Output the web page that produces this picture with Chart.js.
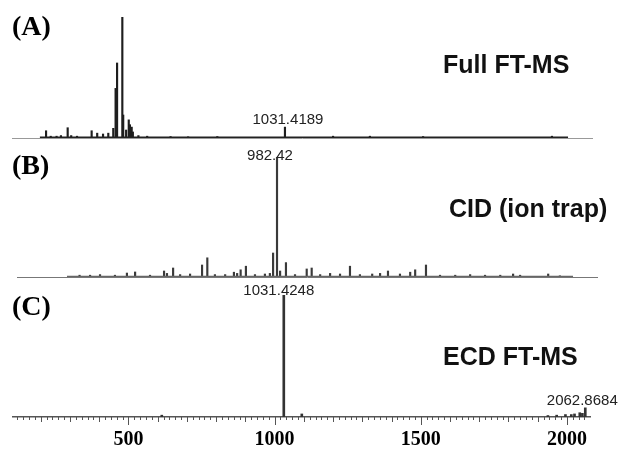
<!DOCTYPE html>
<html><head><meta charset="utf-8">
<script src="https://cdn.jsdelivr.net/npm/chart.js@4/dist/chart.umd.min.js"></script>
<style>
html,body{margin:0;padding:0;background:#fff;}
#wrap{position:relative;width:619px;height:457px;overflow:hidden;background:#fff;}
canvas{position:absolute;left:0;top:0;}
.pl{position:absolute;font-family:"Liberation Serif","Times New Roman",serif;font-weight:bold;font-size:28px;color:#000;line-height:1;white-space:nowrap;}
.mt{position:absolute;font-family:"Liberation Sans",Arial,sans-serif;font-weight:bold;font-size:25px;color:#111;line-height:1;white-space:nowrap;}
</style></head><body>
<div id="wrap">
<canvas id="cA" width="619" height="457"></canvas>
<canvas id="cB" width="619" height="457"></canvas>
<canvas id="cC" width="619" height="470"></canvas>
<div class="pl" style="left:12px;top:12px">(A)</div>
<div class="pl" style="left:12px;top:151px">(B)</div>
<div class="pl" style="left:12px;top:292px">(C)</div>
<div class="mt" style="left:443px;top:52px">Full FT-MS</div>
<div class="mt" style="left:449px;top:196px">CID (ion trap)</div>
<div class="mt" style="left:443px;top:344px">ECD FT-MS</div>
</div>
<script>
// ---- data (m/z, relative intensity %) ----
const peaksA = [
  {x:214,y:6},{x:230,y:1.5},{x:250,y:1.5},{x:265,y:2},{x:288,y:8.5},{x:300,y:2},{x:320,y:1.5},
  {x:370,y:6},{x:389,y:4},{x:409,y:3.3},{x:427,y:4},{x:444,y:8},{x:452,y:41},{x:457,y:62},
  {x:475,y:100},{x:478,y:19},{x:488,y:6.6},{x:497,y:15},{x:501,y:11},{x:507,y:9},{x:511,y:5},
  {x:530,y:2},{x:560,y:1.5},{x:640,y:1.2},{x:700,y:1},{x:800,y:1.2},{x:1031.4189,y:9},
  {x:1196,y:1.5},{x:1322,y:1.5},{x:1504,y:1.2},{x:1945,y:1.5}
];
const noiseA = [{x:193,y:0.5},{x:2000,y:0.5}];
const labelsA = ['1031.4189'];

const peaksB = [
  {x:307,y:1.5},{x:343,y:1.5},{x:377,y:2},{x:428,y:1.5},{x:469,y:3.3},{x:497,y:4.2},{x:548,y:1.5},
  {x:596,y:5},{x:606,y:3},{x:627,y:7.5},{x:651,y:2},{x:685,y:2.5},{x:726,y:10},{x:744,y:16},
  {x:770,y:2},{x:805,y:2},{x:835,y:4},{x:846,y:3},{x:858,y:6},{x:876,y:9},{x:907,y:2},{x:941,y:2.5},
  {x:958,y:3},{x:969,y:20},{x:982.42,y:100},{x:993,y:5},{x:1013,y:12},{x:1044,y:2},{x:1084,y:6.7},
  {x:1101,y:7.5},{x:1130,y:2},{x:1164,y:3},{x:1198,y:2.5},{x:1232,y:9},{x:1266,y:2},{x:1308,y:2.5},
  {x:1335,y:3},{x:1362,y:5},{x:1403,y:2.5},{x:1438,y:4},{x:1455,y:6},{x:1492,y:10},{x:1540,y:1.5},
  {x:1592,y:1.5},{x:1643,y:2},{x:1694,y:1.5},{x:1746,y:1.5},{x:1790,y:2.5},{x:1814,y:1.5},
  {x:1910,y:2.5},{x:1950,y:1}
];
const noiseB = [{x:264,y:0.4},{x:1995,y:0.4}];
const labelsB = ['982.42'];

const peaksC = [
  {x:614,y:1.5},{x:1031.4248,y:100},{x:1093,y:2.5},{x:1935,y:1.2},{x:1965,y:1.5},{x:1995,y:2},
  {x:2015,y:2},{x:2026,y:2.5},{x:2044,y:3.5},{x:2053,y:3},{x:2062.8684,y:7.5}
];
const labelsC = ['1031.4248','2062.8684'];
const tickValues = [500,1000,1500,2000];

// ---- plugins ----
const peakLabelPlugin = {
  id:'peakLabels',
  afterDatasetsDraw(chart, args, opts){
    const items = opts.items || [];
    const ctx = chart.ctx, xs = chart.scales.x, ys = chart.scales.y;
    ctx.save();
    ctx.font = '15px "Liberation Sans", Arial, sans-serif';
    ctx.fillStyle = '#222'; ctx.textAlign = 'center'; ctx.textBaseline = 'alphabetic';
    items.forEach(it => {
      const mz = parseFloat(it.text);
      const data = chart.data.datasets[0].data;
      const pk = data.reduce((a,b)=> Math.abs(b.x-mz) < Math.abs(a.x-mz) ? b : a);
      ctx.fillText(it.text, xs.getPixelForValue(pk.x) + (it.dx||0), ys.getPixelForValue(pk.y) + (it.dy||0));
    });
    ctx.restore();
  }
};
const minorTickPlugin = {
  id:'minorTicks',
  afterDraw(chart){
    const xs = chart.scales.x, ctx = chart.ctx, y0 = chart.chartArea.bottom;
    ctx.save(); ctx.strokeStyle = '#555'; ctx.lineWidth = 1;
    for (let v = Math.ceil(xs.min/20)*20; v <= xs.max; v += 20) {
      const len = v % 500 === 0 ? 8 : (v % 100 === 0 ? 5 : 3);
      const px = Math.round(xs.getPixelForValue(v)) + 0.5;
      ctx.beginPath(); ctx.moveTo(px, y0); ctx.lineTo(px, y0 + len); ctx.stroke();
    }
    ctx.restore();
  }
};

function makeChart(id, peaks, noise, xr, pad, o){
  const datasets = [{type:'bar', data:peaks, backgroundColor:o.peakColor, borderWidth:0, barThickness:o.bw, order:1}];
  if (noise) datasets.push({type:'line', data:noise, borderColor:o.noiseColor, borderWidth:o.noiseW, pointRadius:0, order:0});
  return new Chart(document.getElementById(id), {
    type:'bar',
    data:{datasets},
    options:{
      responsive:false, animation:false, devicePixelRatio:1,
      layout:{padding:pad},
      plugins:{legend:{display:false}, tooltip:{enabled:false}, peakLabels:{items:o.labels}},
      scales:{
        x:{type:'linear', min:xr[0], max:xr[1], display:true, offset:false,
           grid:{display:false, drawTicks:false, offset:false},
           border:{display:true, color:o.axisColor, width:o.axisW},
           ticks:o.ticks || {display:false},
           afterBuildTicks:o.afterBuildTicks},
        y:{display:false, min:0, max:100}
      }
    },
    plugins:[peakLabelPlugin].concat(o.extra || [])
  });
}

makeChart('cA', peaksA, noiseA, [97.5, 2082], {left:12, right:27, top:17, bottom:319}, {
  peakColor:'#1e1e1e', bw:1.5, noiseColor:'#222', noiseW:2, axisColor:'#999', axisW:1,
  labels: labelsA.map(t => ({text:t, dx:3, dy:-3.5}))
});
makeChart('cB', peaksB, noiseB, [93, 2077], {left:17, right:22, top:157, bottom:180}, {
  peakColor:'#3a3a3a', bw:1.5, noiseColor:'#666', noiseW:1.5, axisColor:'#777', axisW:1,
  labels: labelsB.map(t => ({text:t, dx:-7, dy:3}))
});
makeChart('cC', peaksC, null, [105, 2079], {left:13, right:29, top:295, bottom:7}, {
  peakColor:'#333', bw:2, axisColor:'#555', axisW:1.5,
  labels: [{text:labelsC[0], dx:-5, dy:0},{text:labelsC[1], dx:-3, dy:-3}],
  ticks:{display:true, autoSkip:false, maxRotation:0, padding:11, color:'#000',
         font:{family:'"Liberation Serif","Times New Roman",serif', size:20, weight:'bold'},
         callback: v => String(v)},
  afterBuildTicks: s => { s.ticks = tickValues.map(v => ({value:v})); },
  extra:[minorTickPlugin]
});
</script>
</body></html>
